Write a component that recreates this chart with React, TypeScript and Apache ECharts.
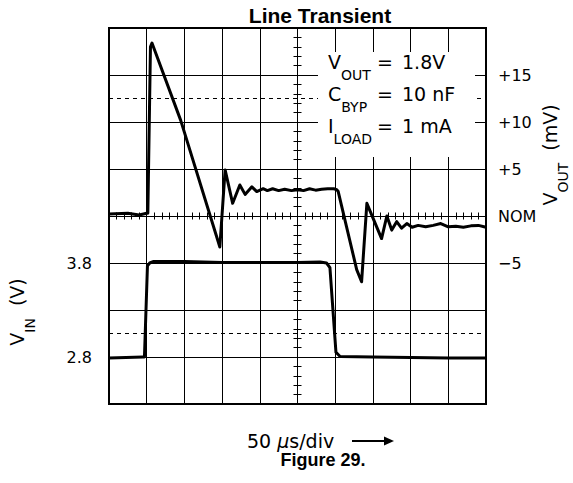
import React, { useEffect, useRef } from 'react';
import * as echarts from 'echarts';

// Time in µs (50 µs/div, 0 at screen centre)
const voutTime = [-250, -225, -210, -200, -198.5, -195, -193, -155, -103, -96, -86, -76.5, -69.5, -60.5, -54, -45.5, -40, -33, -25, -17, -8, 0, 8, 16, 24, 32, 40, 48, 52, 54, 78.5, 85, 92, 111.5, 118.5, 125, 131.5, 138, 145, 152, 160, 170, 180, 190, 200, 210, 220, 230, 240, 250];
// VOUT deviation in mV
const voutMv = [0.2, 0.3, 0.1, 0.3, 0.3, 18.0, 18.4, 10.2, -3.3, 4.9, 1.35, 3.3, 2.3, 3.1, 2.6, 2.9, 2.7, 2.9, 2.7, 2.85, 2.7, 2.8, 2.7, 2.9, 2.75, 2.85, 2.9, 2.9, 2.8, 2.6, -5.7, -7.0, 1.35, -2.4, 0, -1.5, -0.6, -1.3, -0.8, -1.2, -1.0, -1.15, -1.0, -0.8, -1.15, -1.1, -1.2, -1.05, -1.0, -1.2];

const vinTime = [-250, -205, -203, -199, -196, -191.5, -150, -100, -50, 0, 30, 38.5, 43, 51, 56.5, 100, 150, 200, 250];
// VIN in volts
const vinVolts = [2.79, 2.8, 2.8, 3.77, 3.8, 3.815, 3.815, 3.805, 3.805, 3.805, 3.81, 3.8, 3.75, 2.85, 2.805, 2.8, 2.795, 2.79, 2.79];

// Scope marker levels (mV)
const markerLevels = [12.5, -12.5];

// Tick labels
const voutTickValues = [15, 10, 5, 0, -5];
const voutTickLabels = ['+15', '+10', '+5', 'NOM', '\u22125'];
const vinTickValues = [3.8, 2.8];
const vinTickLabels = ['3.8', '2.8'];

const BLACK = '#000';
const FONT = 'DejaVu Sans';

function findLabel(v: number, values: number[], labels: string[]) {
  for (let i = 0; i < values.length; i++) {
    if (Math.abs(v - values[i]) < 1e-6) return labels[i];
  }
  return '';
}

const rich = {
  m: { fontSize: 19, fontFamily: FONT, lineHeight: 30, verticalAlign: 'top', fill: BLACK },
  s: { fontSize: 14, fontFamily: FONT, lineHeight: 14, verticalAlign: 'bottom', fill: BLACK },
};

export default function App() {
  const ref = useRef<HTMLDivElement>(null);
  useEffect(() => {
    document.body.style.margin = '0';
    const chart = echarts.init(ref.current!, null, { renderer: 'svg' });

    const minorX = (inside: boolean) => ({
      type: 'value', min: -250, max: 250, interval: 50, position: 'bottom',
      axisLine: { show: true, onZero: true, onZeroAxisIndex: 1, lineStyle: { color: BLACK, width: 1 } },
      axisTick: { show: false, inside },
      minorTick: { show: true, splitNumber: 5, length: 3.5, lineStyle: { color: BLACK, width: 1 } },
      axisLabel: { show: false }, splitLine: { show: false },
    });
    const minorY = (inside: boolean) => ({
      type: 'value', min: -20, max: 20, interval: 5, position: 'left',
      axisLine: { show: true, onZero: true, onZeroAxisIndex: 0, lineStyle: { color: BLACK, width: 1 } },
      axisTick: { show: false, inside },
      minorTick: { show: true, splitNumber: 5, length: 4, lineStyle: { color: BLACK, width: 1 } },
      axisLabel: { show: false }, splitLine: { show: false },
    });

    const annot = (y: number, label: string, value: string) => [
      { type: 'text', z: 11, x: 328, y, style: { text: label, rich, verticalAlign: 'top', align: 'left' } },
      { type: 'text', z: 11, x: 377, y, style: { text: '{m|=}', rich, verticalAlign: 'top', align: 'left' } },
      { type: 'text', z: 11, x: 402, y, style: { text: value, rich, verticalAlign: 'top', align: 'left' } },
    ];

    chart.setOption({
      animation: false,
      grid: { left: 109, top: 28, width: 377, height: 376, show: true, borderColor: BLACK, borderWidth: 2, backgroundColor: 'transparent' },
      xAxis: [
        {
          type: 'value', min: -250, max: 250, interval: 50, position: 'bottom',
          axisLine: { show: false, onZero: false }, axisTick: { show: false }, axisLabel: { show: false },
          splitLine: { show: true, lineStyle: { color: BLACK, width: 1 } },
        },
        minorX(true),
        minorX(false),
      ],
      yAxis: [
        {
          type: 'value', min: 2.3, max: 6.3, interval: 0.5, position: 'left',
          axisLine: { show: false, onZero: false }, axisTick: { show: false }, splitLine: { show: false },
          axisLabel: {
            show: true, margin: 17, color: BLACK, fontFamily: FONT, fontSize: 16,
            formatter: (v: number) => findLabel(v, vinTickValues, vinTickLabels),
          },
        },
        {
          type: 'value', min: -20, max: 20, interval: 5, position: 'right',
          axisLine: { show: false, onZero: false }, axisTick: { show: false },
          splitLine: { show: true, lineStyle: { color: BLACK, width: 1 } },
          axisLabel: {
            show: true, margin: 12, color: BLACK, fontFamily: FONT, fontSize: 16,
            formatter: (v: number) => findLabel(v, voutTickValues, voutTickLabels),
          },
        },
        minorY(true),
        minorY(false),
      ],
      series: [
        {
          type: 'line', name: 'VOUT', xAxisIndex: 0, yAxisIndex: 1, z: 3,
          data: voutTime.map((t, i) => [t, voutMv[i]]),
          symbol: 'none', showSymbol: false,
          lineStyle: { color: BLACK, width: 3, join: 'round' },
          itemStyle: { color: BLACK },
          markLine: {
            silent: true, symbol: ['none', 'none'], label: { show: false },
            lineStyle: { color: BLACK, width: 1, type: [4, 4] },
            data: markerLevels.map((v) => ({ yAxis: v })),
          },
        },
        {
          type: 'line', name: 'VIN', xAxisIndex: 0, yAxisIndex: 0, z: 3,
          data: vinTime.map((t, i) => [t, vinVolts[i]]),
          symbol: 'none', showSymbol: false,
          lineStyle: { color: BLACK, width: 3, join: 'round' },
          itemStyle: { color: BLACK },
        },
      ],
      graphic: [
        { type: 'rect', z: 10, shape: { x: 318, y: 52, width: 157, height: 105 }, style: { fill: '#fff' } },
        ...annot(52, '{m|V}{s|OUT}', '{m|1.8V}'),
        ...annot(84, '{m|C}{s|BYP}', '{m|10 nF}'),
        ...annot(116, '{m|I}{s|LOAD}', '{m|1 mA}'),
        {
          type: 'text', z: 11, x: 320, y: 15,
          style: { text: 'Line Transient', font: 'bold 21px "Liberation Sans", Arial, sans-serif', fill: BLACK, align: 'center', verticalAlign: 'middle' },
        },
        {
          type: 'text', z: 11, x: 323, y: 460,
          style: { text: 'Figure 29.', font: 'bold 18px "Liberation Sans", Arial, sans-serif', fill: BLACK, align: 'center', verticalAlign: 'middle' },
        },
        {
          type: 'text', z: 11, x: 247, y: 441,
          style: {
            text: '{n|50 }{u|\u00b5}{n|s/div}',
            rich: {
              n: { fontSize: 19, fontFamily: FONT, fill: BLACK },
              u: { fontSize: 19, fontFamily: FONT, fontStyle: 'italic', fill: BLACK },
            },
            align: 'left', verticalAlign: 'middle',
          },
        },
        { type: 'line', z: 11, shape: { x1: 352, y1: 441, x2: 387, y2: 441 }, style: { stroke: BLACK, lineWidth: 2 } },
        { type: 'polygon', z: 11, shape: { points: [[384, 436.5], [394, 441], [384, 445.5]] }, style: { fill: BLACK } },
        {
          type: 'text', z: 11, x: 22, y: 312, rotation: Math.PI / 2,
          style: { text: '{m|V}{s|IN}{m|  (V)}', rich, align: 'center', verticalAlign: 'middle' },
        },
        {
          type: 'text', z: 11, x: 555, y: 155, rotation: Math.PI / 2,
          style: { text: '{m|V}{s|OUT}{m|  (mV)}', rich, align: 'center', verticalAlign: 'middle' },
        },
      ],
    });
    return () => chart.dispose();
  }, []);
  return <div ref={ref} style={{ width: 573, height: 483 }} />;
}
